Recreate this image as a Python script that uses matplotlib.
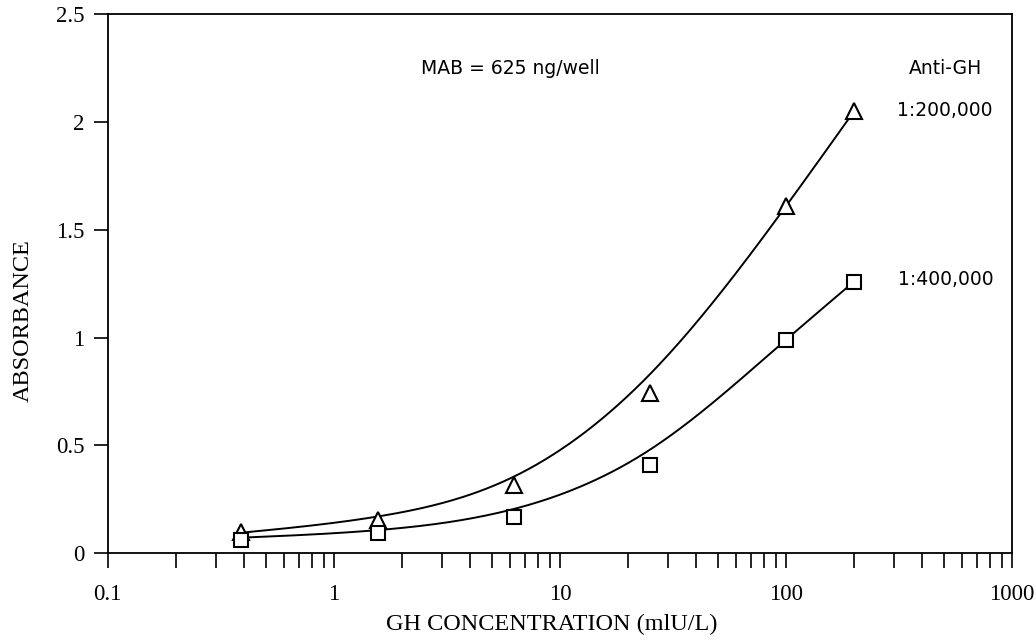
import numpy as np
import matplotlib
matplotlib.use('Agg')
import matplotlib.pyplot as plt
from matplotlib.ticker import LogLocator, FixedLocator, NullFormatter

# GH standard concentrations (mIU/L)
conc = [0.39, 1.56, 6.25, 25, 100, 200]

# measured absorbance, two antibody dilutions
abs_200k = [0.097, 0.153, 0.315, 0.745, 1.61, 2.05]
abs_400k = [0.06, 0.093, 0.17, 0.41, 0.99, 1.26]

# fitted curve values at the same concentrations
fit_200k = [0.095, 0.17, 0.355, 0.83, 1.61, 2.05]
fit_400k = [0.072, 0.107, 0.205, 0.48, 0.99, 1.26]

y_ticks = [0, 0.5, 1, 1.5, 2, 2.5]
y_ticklabels = ['0', '0.5', '1', '1.5', '2', '2.5']
x_ticks = [0.1, 1, 10, 100, 1000]
x_ticklabels = ['0.1', '1', '10', '100', '1000']

serif = ['Liberation Serif', 'DejaVu Serif']
sans = ['DejaVu Sans']

fig = plt.figure(figsize=(10.36, 6.44), dpi=100)
ax = fig.add_axes([0.104, 0.141, 0.873, 0.837])


def smooth(xs, ys, n=300):
    # natural cubic spline through the fit values, in log x
    x = np.log10(np.asarray(xs, float))
    y = np.asarray(ys, float)
    k = len(x)
    h = np.diff(x)
    A = np.zeros((k, k))
    r = np.zeros(k)
    A[0, 0] = A[-1, -1] = 1
    for i in range(1, k - 1):
        A[i, i - 1] = h[i - 1]
        A[i, i] = 2 * (h[i - 1] + h[i])
        A[i, i + 1] = h[i]
        r[i] = 6 * ((y[i + 1] - y[i]) / h[i] - (y[i] - y[i - 1]) / h[i - 1])
    M = np.linalg.solve(A, r)
    xx = np.linspace(x[0], x[-1], n)
    i = np.clip(np.searchsorted(x, xx) - 1, 0, k - 2)
    a = x[i + 1] - xx
    b = xx - x[i]
    yy = (M[i] * a**3 + M[i + 1] * b**3) / (6 * h[i]) \
        + (y[i] / h[i] - M[i] * h[i] / 6) * a + (y[i + 1] / h[i] - M[i + 1] * h[i] / 6) * b
    return 10 ** xx, yy


for fit in (fit_200k, fit_400k):
    cx, cy = smooth(conc, fit)
    ax.plot(cx, cy, color='black', lw=1.4)

ax.plot(conc, abs_200k, ls='none', marker='^', ms=12, mfc='white', mec='black', mew=1.5)
ax.plot(conc, abs_400k, ls='none', marker='s', ms=10, mfc='white', mec='black', mew=1.5)

ax.set_xscale('log')
ax.set_xlim(0.1, 1000)
ax.set_ylim(0, 2.5)

ax.xaxis.set_major_locator(FixedLocator(x_ticks))
ax.set_xticklabels(x_ticklabels, family=serif, fontsize=16.5)
ax.xaxis.set_minor_locator(LogLocator(base=10, subs=np.arange(2, 10)))
ax.xaxis.set_minor_formatter(NullFormatter())
ax.set_yticks(y_ticks)
ax.set_yticklabels(y_ticklabels, family=serif, fontsize=16.5)

ax.tick_params(axis='x', which='both', direction='out', length=11, width=1.2, pad=11)
ax.tick_params(axis='y', which='major', direction='out', length=10, width=1.2, pad=7)
ax.tick_params(top=False, right=False)
for s in ax.spines.values():
    s.set_linewidth(1.3)

fig.text(0.533, 0.03, 'GH CONCENTRATION (mlU/L)', family=serif, fontsize=17.5,
         ha='center', va='center')
fig.text(0.022, 0.503, 'ABSORBANCE', family=serif, fontsize=17.5,
         rotation=90, ha='center', va='center')

ax.text(0.346, 0.9, 'MAB = 625 ng/well', transform=ax.transAxes, family=sans, fontsize=13.5,
        ha='left', va='center')
ax.text(0.926, 0.9, 'Anti-GH', transform=ax.transAxes, family=sans, fontsize=13.5,
        ha='center', va='center')
ax.text(0.925, 0.822, '1:200,000', transform=ax.transAxes, family=sans, fontsize=13.5,
        ha='center', va='center')
ax.text(0.927, 0.508, '1:400,000', transform=ax.transAxes, family=sans, fontsize=13.5,
        ha='center', va='center')

fig.savefig('out.png', dpi=100, facecolor='white')
